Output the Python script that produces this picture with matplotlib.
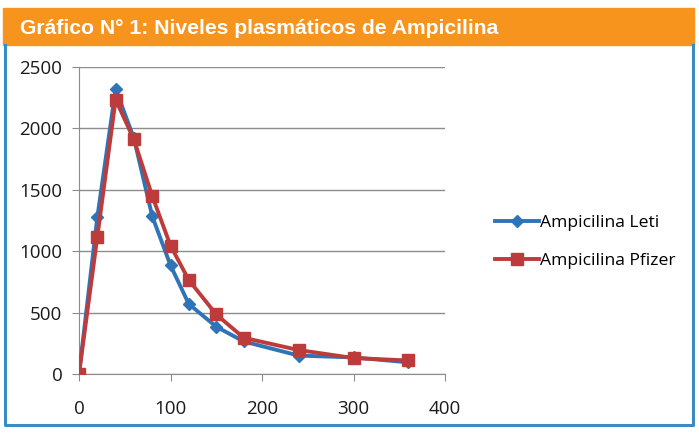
import matplotlib
matplotlib.use("Agg")
from matplotlib import pyplot as plt
from matplotlib.patches import Rectangle
from matplotlib.lines import Line2D

title = "Gráfico N° 1: Niveles plasmáticos de Ampicilina"

times = [0, 20, 40, 60, 80, 100, 120, 150, 180, 240, 300, 360]
leti = [0, 1275, 2320, 1920, 1285, 885, 570, 385, 265, 150, 135, 95]
pfizer = [0, 1115, 2235, 1910, 1450, 1045, 765, 485, 295, 195, 130, 110]

xTicks = [0, 100, 200, 300, 400]
yTicks = [0, 500, 1000, 1500, 2000, 2500]

blue = "#2F74B7"
red = "#BE3B3B"
tickFont = ["Open Sans", "DejaVu Sans"]

fig = plt.figure(figsize=(6.99, 4.36), dpi=100)

# orange header band and blue frame
fig.patches.append(Rectangle((3 / 699, 1 - 45 / 436), 691 / 699, 37 / 436,
                             transform=fig.transFigure, color="#F7941E", zorder=0))
fig.lines.append(Line2D([5 / 699, 5 / 699, 693 / 699, 693 / 699],
                        [1 - 45 / 436, 1 - 425 / 436, 1 - 425 / 436, 1 - 45 / 436],
                        transform=fig.transFigure, color="#3A8AC4", lw=2.2))
fig.text(20 / 699, 1 - 28 / 436, title, color="white", fontsize=15.2,
         fontweight="bold", va="center", ha="left",
         family=["Liberation Sans Narrow", "Liberation Sans", "DejaVu Sans"])

ax = fig.add_axes([79 / 699, 1 - 374 / 436, 366 / 699, 307 / 436])
ax.plot(times, leti, color=blue, lw=2.8, marker="D", markersize=6.5,
        label="Ampicilina Leti", zorder=3)
ax.plot(times, pfizer, color=red, lw=2.8, marker="s", markersize=9,
        label="Ampicilina Pfizer", zorder=4)

ax.set_xlim(0, 400)
ax.set_ylim(0, 2500)
ax.set_xticks(xTicks)
ax.set_yticks(yTicks)
ax.grid(axis="y", color="#8C8C8C", lw=1)
ax.set_axisbelow(True)
for side in ["top", "right"]:
    ax.spines[side].set_visible(False)
for side in ["left", "bottom"]:
    ax.spines[side].set_color("#8C8C8C")
ax.tick_params(axis="both", colors="#8C8C8C", labelcolor="#1A1A1A",
               labelsize=13.5, length=5, direction="out")
ax.tick_params(axis="x", pad=14)
ax.tick_params(axis="y", pad=7)
for lbl in ax.get_xticklabels() + ax.get_yticklabels():
    lbl.set_family(tickFont)

ax.legend(loc="center left", bbox_to_anchor=(479 / 699, 1 - 242 / 436),
          bbox_transform=fig.transFigure, frameon=False,
          prop={"family": tickFont, "size": 12.6}, handlelength=2.5,
          labelspacing=1.25, handletextpad=0.1)

fig.savefig("out.png", dpi=100)
